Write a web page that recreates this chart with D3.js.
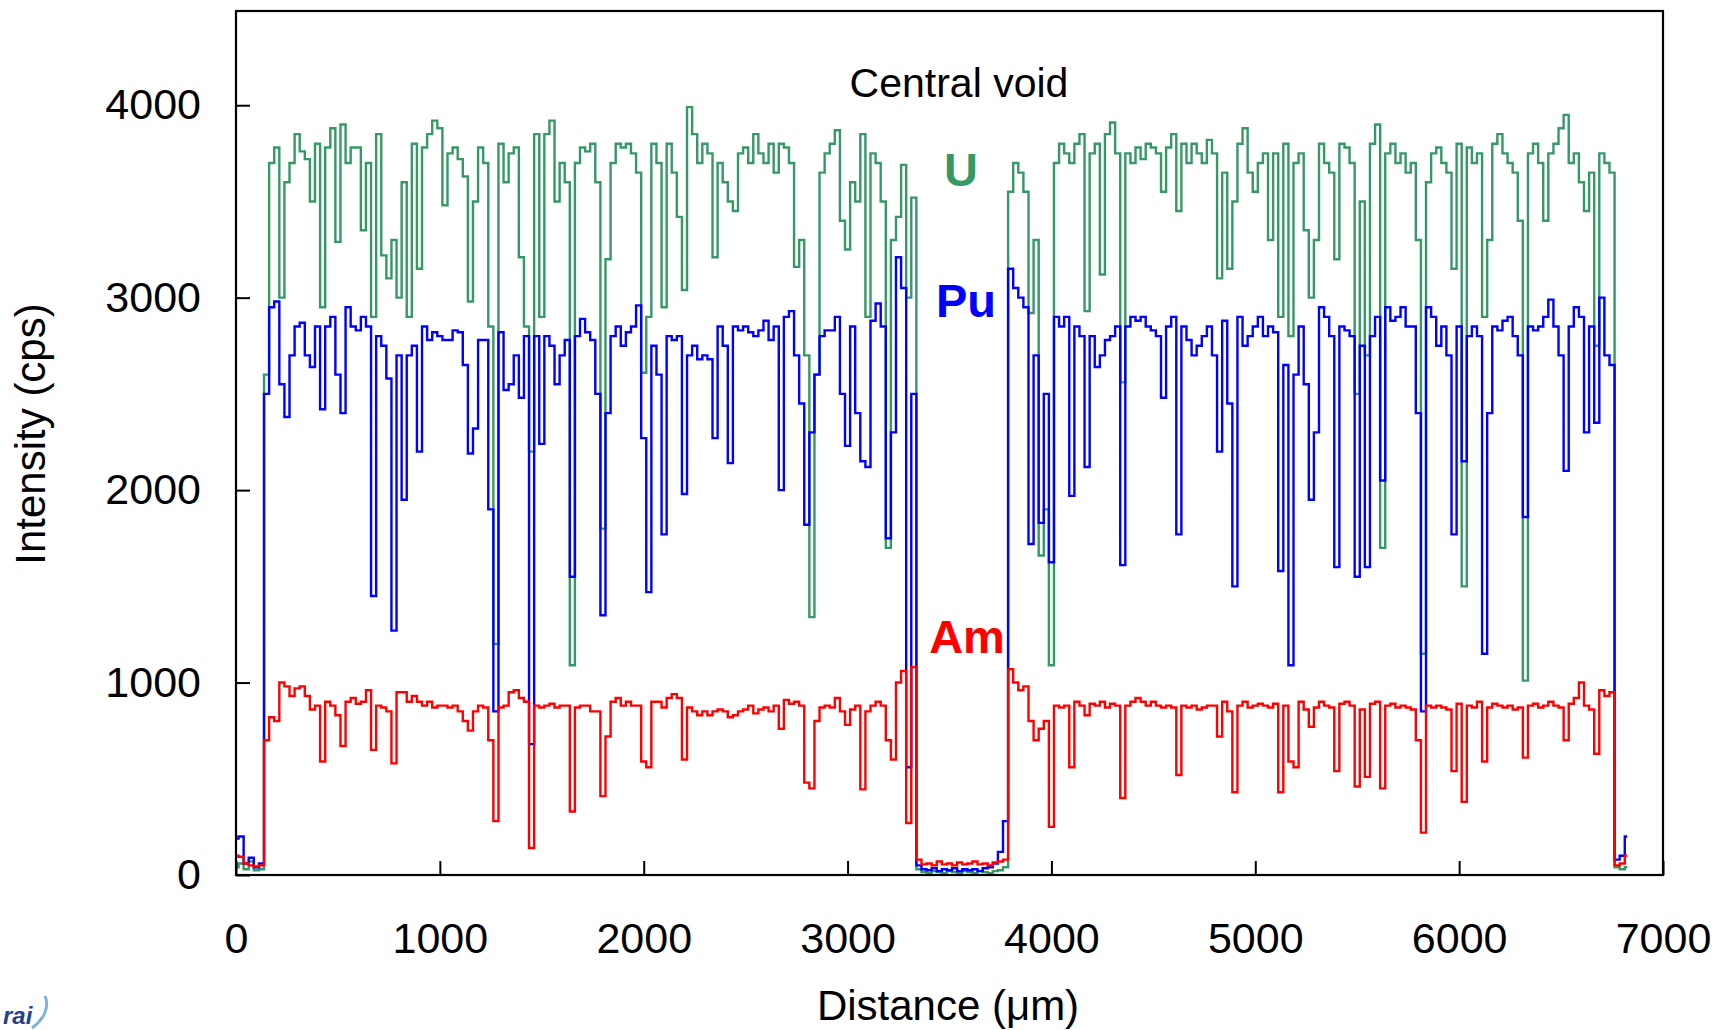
<!DOCTYPE html>
<html>
<head>
    <meta charset="utf-8" />
    <title>Intensity profile</title>
    <style>
        body { margin: 0; background: #fff; }
        svg { display: block; }
        text { font-family: "Liberation Sans", Arial, sans-serif; }
        .axis text { font-size: 43px; fill: #000; }
        .axis line { stroke: #000; stroke-width: 2; }
    </style>
    <script src="https://d3js.org/d3.v7.min.js"></script>
</head>
<body>
<script>

// sampling interval of the line scan (um)
let step = 25;

// U intensity (cps), one value every 25 um from 0
let U = [
    40, 60, 30, 70, 25, 30, 2600, 3700, 3780, 3000,
    3600, 3700, 3850, 3760, 3720, 3500, 3800, 2950, 3780, 3880,
    3290, 3900, 3700, 3780, 3780, 3350, 3700, 2900, 3850, 3220,
    3100, 3300, 3000, 3600, 2900, 3800, 3150, 3780, 3850, 3920,
    3880, 3480, 3750, 3780, 3720, 3630, 2980, 3500, 3780, 3700,
    2850, 1200, 3800, 3600, 3750, 3780, 3210, 2850, 2200, 3850,
    2900, 3850, 3920, 3500, 3700, 3600, 1090, 3700, 3780, 3760,
    3800, 3600, 1800, 3200, 3700, 3800, 3780, 3800, 3750, 3650,
    2610, 2900, 3800, 3700, 2950, 3800, 3650, 3420, 3040, 3990,
    3850, 3700, 3800, 3750, 3210, 3700, 3600, 3500, 3450, 3750,
    3780, 3700, 3850, 3750, 3700, 3800, 3650, 3800, 3780, 3700,
    3160, 3300, 2700, 1340, 2600, 3650, 3750, 3800, 3870, 3400,
    3250, 3600, 3500, 3850, 2900, 3750, 3700, 3500, 1700, 3300,
    3420, 3690, 3000, 3520, 30, 15, 10, 20, 15, 10,
    20, 15, 10, 20, 15, 10, 20, 15, 10, 20,
    25, 40, 3550, 3700, 3650, 3550, 2920, 3300, 1660, 1900,
    1090, 3700, 3800, 3750, 3700, 3800, 3850, 2930, 3750, 3800,
    3120, 3850, 3910, 3750, 2560, 3750, 3700, 3780, 3720, 3800,
    3780, 3750, 3550, 3780, 3850, 3450, 3800, 3700, 3800, 3750,
    3700, 3820, 3750, 3100, 3650, 3150, 3500, 3800, 3880, 3650,
    3550, 3700, 3750, 3300, 3750, 2900, 3800, 2800, 3700, 3750,
    3350, 3000, 3300, 3800, 3700, 3650, 3200, 3800, 3780, 3700,
    2500, 3500, 2700, 3800, 3900, 1700, 3750, 3800, 3700, 3750,
    3650, 3700, 3300, 1150, 3600, 3750, 3780, 3700, 3650, 3150,
    3800, 1500, 3780, 3700, 3750, 2900, 3300, 3800, 3850, 3750,
    3700, 3650, 3400, 1010, 3750, 3800, 3700, 3400, 3750, 3800,
    3880, 3950, 3700, 3750, 3600, 3450, 3650, 2750, 3750, 3700,
    3650, 40, 30, 40
];

// Pu intensity (cps)
let Pu = [
    190, 200, 60, 90, 40, 60, 2500, 2950, 2980, 2550,
    2380, 2700, 2850, 2870, 2700, 2640, 2850, 2420, 2850, 2900,
    2600, 2400, 2950, 2850, 2830, 2900, 2850, 1450, 2800, 2750,
    2580, 1270, 2700, 1950, 2700, 2750, 2200, 2850, 2780, 2820,
    2800, 2780, 2780, 2830, 2820, 2650, 2190, 2320, 2780, 2780,
    1900, 850, 2820, 2520, 2550, 2700, 2480, 2800, 680, 2800,
    2240, 2800, 2750, 2550, 2700, 2780, 1550, 2800, 2890, 2820,
    2780, 2500, 1350, 2400, 2800, 2850, 2750, 2820, 2850, 2960,
    2270, 1470, 2750, 2600, 1770, 2800, 2780, 2800, 1980, 2700,
    2750, 2680, 2700, 2680, 2270, 2850, 2750, 2140, 2850, 2830,
    2850, 2820, 2800, 2830, 2880, 2780, 2850, 2000, 2900, 2930,
    2700, 2450, 1820, 2300, 2600, 2800, 2830, 2830, 2900, 2500,
    2230, 2850, 2400, 2150, 2120, 2880, 2970, 2850, 1750, 2300,
    3210, 3050, 560, 2500, 50, 30, 25, 35, 20, 30,
    25, 35, 20, 30, 25, 30, 20, 35, 40, 60,
    120, 280, 3150, 3050, 3000, 2950, 1720, 2700, 1830, 2500,
    1625, 2900, 2850, 2900, 1970, 2850, 2800, 2120, 2800, 2640,
    2700, 2780, 2800, 2850, 1610, 2850, 2900, 2880, 2900, 2850,
    2830, 2800, 2480, 2850, 2900, 1770, 2850, 2780, 2700, 2750,
    2800, 2850, 2700, 2200, 2880, 2450, 1500, 2900, 2750, 2800,
    2850, 2900, 2800, 2850, 2820, 1580, 2650, 1090, 2600, 2850,
    2550, 1950, 2300, 2950, 2900, 2800, 1600, 2850, 2830, 2800,
    1550, 2750, 1600, 2800, 2900, 2050, 2950, 2880, 2900, 2950,
    2850, 2850, 2400, 850, 2950, 2900, 2750, 2850, 2700, 1770,
    2850, 2150, 2800, 2850, 2800, 1150, 2400, 2850, 2830, 2880,
    2900, 2800, 2700, 1860, 2850, 2830, 2850, 2900, 2990, 2850,
    2700, 2100, 2850, 2950, 2900, 2300, 2850, 2350, 3000, 2700,
    2650, 80, 100, 200
];

// Am intensity (cps)
let Am = [
    100, 95, 60, 50, 45, 50, 700, 820, 800, 1000,
    980, 930, 970, 980, 930, 860, 880, 590, 900, 880,
    830, 670, 900, 920, 890, 900, 960, 650, 880, 870,
    850, 580, 950, 950, 900, 930, 900, 880, 900, 870,
    880, 880, 870, 880, 850, 800, 750, 850, 880, 870,
    700, 280, 870, 880, 950, 960, 920, 900, 140, 880,
    870, 880, 890, 870, 880, 880, 330, 870, 880, 880,
    850, 850, 410, 720, 900, 920, 880, 900, 880, 880,
    590, 560, 900, 900, 870, 920, 940, 920, 600, 870,
    850, 830, 850, 830, 850, 860, 850, 820, 830, 850,
    860, 880, 840, 860, 870, 850, 880, 760, 910, 890,
    900, 880, 480, 450, 800, 870, 880, 870, 920, 850,
    780, 860, 880, 445, 850, 880, 900, 880, 700, 600,
    1000, 1060, 270, 1080, 80, 55, 60, 50, 70, 55,
    60, 50, 65, 55, 60, 70, 55, 60, 50, 65,
    70, 80, 1070, 1000, 960, 980, 800, 700, 760, 800,
    250, 880, 870, 880, 560, 900, 880, 830, 890, 880,
    900, 870, 890, 880, 400, 880, 900, 920, 900, 880,
    900, 880, 870, 880, 870, 520, 880, 870, 880, 860,
    870, 880, 880, 720, 900, 850, 430, 880, 900, 870,
    880, 890, 880, 870, 890, 430, 880, 590, 560, 900,
    860, 770, 870, 900, 880, 870, 540, 890, 900, 880,
    460, 860, 510, 890, 900, 450, 880, 890, 870, 880,
    870, 860, 700, 220, 880, 870, 880, 870, 860, 540,
    890, 380, 880, 870, 900, 590, 870, 890, 880, 870,
    880, 860, 870, 610, 880, 890, 870, 880, 900, 880,
    870, 700, 890, 920, 1000, 880, 860, 630, 960, 930,
    950, 50, 60, 100
];

let xTicks = [0, 1000, 2000, 3000, 4000, 5000, 6000, 7000];
let yTicks = [0, 1000, 2000, 3000, 4000];

let series = [
    { name: "U",  values: U,  color: "#359966", lx: 961, ly: 186 },
    { name: "Pu", values: Pu, color: "#0000ff", lx: 966, ly: 317 },
    { name: "Am", values: Am, color: "#ff0000", lx: 967, ly: 653 }
];

let W = 1715, H = 1030;
let plot = { left: 236, right: 1663, top: 9, bottom: 875 };

let svg = d3.select("body").append("svg")
    .attr("width", W)
    .attr("height", H);

svg.append("rect")
    .attr("width", W).attr("height", H)
    .attr("fill", "#fff");

let x = d3.scaleLinear()
    .domain([0, 7000])
    .range([plot.left, plot.right]);

let y = d3.scaleLinear()
    .domain([0, 4500])
    .range([plot.bottom, plot.top]);

// lines, U underneath, Am on top
let line = d3.line()
    .x((d, i) => x(i * step))
    .y(d => y(d))
    .curve(d3.curveStep);

svg.append("g")
    .selectAll("path")
    .data(series)
    .enter()
    .append("path")
    .attr("d", d => line(d.values))
    .attr("fill", "none")
    .attr("stroke", d => d.color)
    .attr("stroke-width", 2.4)
    .attr("stroke-linejoin", "miter");

// frame
svg.append("rect")
    .attr("x", plot.left)
    .attr("y", plot.top + 2)
    .attr("width", plot.right - plot.left)
    .attr("height", plot.bottom - plot.top - 2)
    .attr("fill", "none")
    .attr("stroke", "#000")
    .attr("stroke-width", 2.2);

// axes with inward ticks
let xAxis = d3.axisBottom(x)
    .tickValues(xTicks)
    .tickSize(-14)
    .tickPadding(47)
    .tickFormat(d3.format("d"));

let yAxis = d3.axisLeft(y)
    .tickValues(yTicks)
    .tickSize(-14)
    .tickPadding(35)
    .tickFormat(d3.format("d"));

svg.append("g")
    .attr("class", "axis")
    .attr("transform", "translate(0," + plot.bottom + ")")
    .call(xAxis)
    .call(g => g.select(".domain").remove());

svg.append("g")
    .attr("class", "axis")
    .attr("transform", "translate(" + plot.left + ",0)")
    .call(yAxis)
    .call(g => g.select(".domain").remove());

svg.selectAll(".axis text").attr("font-family", null);

// axis titles
svg.append("text")
    .attr("x", 948)
    .attr("y", 1020)
    .attr("text-anchor", "middle")
    .attr("font-size", 42)
    .text("Distance (\u03bcm)");

svg.append("text")
    .attr("transform", "translate(45,434) rotate(-90)")
    .attr("text-anchor", "middle")
    .attr("font-size", 42)
    .text("Intensity (cps)");

// annotations
svg.append("text")
    .attr("x", 959)
    .attr("y", 97)
    .attr("text-anchor", "middle")
    .attr("font-size", 41)
    .text("Central void");

svg.selectAll("text.label")
    .data(series)
    .enter()
    .append("text")
    .attr("class", "label")
    .attr("x", d => d.lx)
    .attr("y", d => d.ly)
    .attr("text-anchor", "middle")
    .attr("font-size", 47)
    .attr("font-weight", "bold")
    .attr("fill", d => d.color)
    .text(d => d.name);

// small logo in the corner
svg.append("text")
    .attr("x", 3)
    .attr("y", 1024)
    .attr("font-size", 24)
    .attr("font-style", "italic")
    .attr("font-weight", "bold")
    .attr("fill", "#23408e")
    .text("rai");

svg.append("path")
    .attr("d", "M32,1028 C43,1020 50,1008 45,996")
    .attr("fill", "none")
    .attr("stroke", "#7fb2e0")
    .attr("stroke-width", 3);

</script>
</body>
</html>
